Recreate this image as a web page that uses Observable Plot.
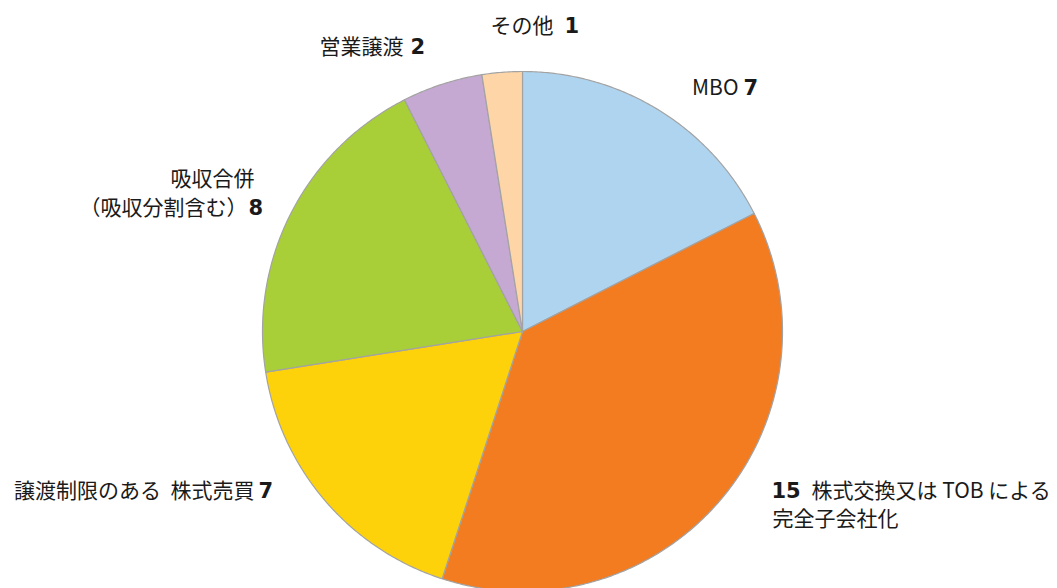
<!DOCTYPE html>
<html><head><meta charset="utf-8">
<script src="https://cdn.jsdelivr.net/npm/d3@7"></script>
<script src="https://cdn.jsdelivr.net/npm/@observablehq/plot@0.6"></script>
<style>
html,body{margin:0;padding:0;background:#fff;}
</style>
</head><body>
<div id="chart"></div>
<script>
// Data
const categories = ["MBO", "株式交換又は TOB による完全子会社化", "譲渡制限のある 株式売買", "吸収合併（吸収分割含む）", "営業譲渡", "その他"];
const values = [7, 15, 7, 8, 2, 1];
const colors = ["#AED4F0", "#F37B20", "#FDD20A", "#A8CF38", "#C5A9D2", "#FDD5A6"];

// Label segments and their anchor positions
const labelTexts   = ["その他", "1", "営業譲渡", "2", "MBO", "7", "吸収合併", "（吸収分割含む）", "8", "譲渡制限のある\u00a0\u00a0株式売買", "7", "15", "株式交換又は TOB による", "完全子会社化"];
const labelBold    = [false, true, false, true, false, true, false, false, true, false, true, true, false, false];
const labelAnchor  = ["end", "start", "end", "start", "end", "start", "end", "end", "start", "end", "start", "start", "start", "start"];
const labelX       = [553, 564, 403, 410, 738, 743, 254, 247, 248, 254, 258, 771, 811, 772];
const labelY       = [26, 26, 47, 47, 88, 88, 179, 208, 208, 491, 491, 491, 491, 519];

const W = 1057, H = 588;
const cx = 522, cy = 331, R = 260;

const pie = d3.pie().sort(null).value(d => d.value)(categories.map((c, i) => ({cat: c, value: values[i]})));
const pts = [];
pie.forEach(s => {
  pts.push({cat: s.data.cat, x: cx, y: cy});
  const n = Math.max(2, Math.ceil((s.endAngle - s.startAngle) / (Math.PI / 360)));
  for (let k = 0; k <= n; k++) {
    const a = s.startAngle + (s.endAngle - s.startAngle) * k / n;
    pts.push({cat: s.data.cat, x: cx + R * Math.sin(a), y: cy - R * Math.cos(a)});
  }
  pts.push({cat: s.data.cat, x: cx, y: cy});
});

const labels = labelTexts.map((t, i) => ({text: t, bold: labelBold[i], anchor: labelAnchor[i], x: labelX[i], y: labelY[i]}));
const font = "'Noto Sans CJK JP', 'Noto Sans', sans-serif";
const boldFont = "'DejaVu Sans', 'Noto Sans', sans-serif";
const textMark = (bold, anchor) => Plot.text(labels.filter(d => d.bold === bold && d.anchor === anchor), {
  x: "x", y: "y", text: "text", textAnchor: anchor, fill: "#1a1a1a",
  fontSize: 21, fontWeight: bold ? "bold" : "normal", fontFamily: bold ? boldFont : font
});

const chart = Plot.plot({
  width: W, height: H,
  margin: 0,
  x: {domain: [0, W], range: [0, W], axis: null},
  y: {domain: [0, H], range: [0, H], axis: null},
  color: {domain: categories, range: colors},
  style: {fontFamily: font, background: "#fff"},
  marks: [
    Plot.line(pts, {x: "x", y: "y", z: "cat", fill: "cat", stroke: "#a3a3a3", strokeWidth: 1.2, curve: "linear"}),
    textMark(false, "end"),
    textMark(false, "start"),
    textMark(true, "start"),
    textMark(true, "end")
  ]
});
document.getElementById("chart").appendChild(chart);
</script>
</body></html>
